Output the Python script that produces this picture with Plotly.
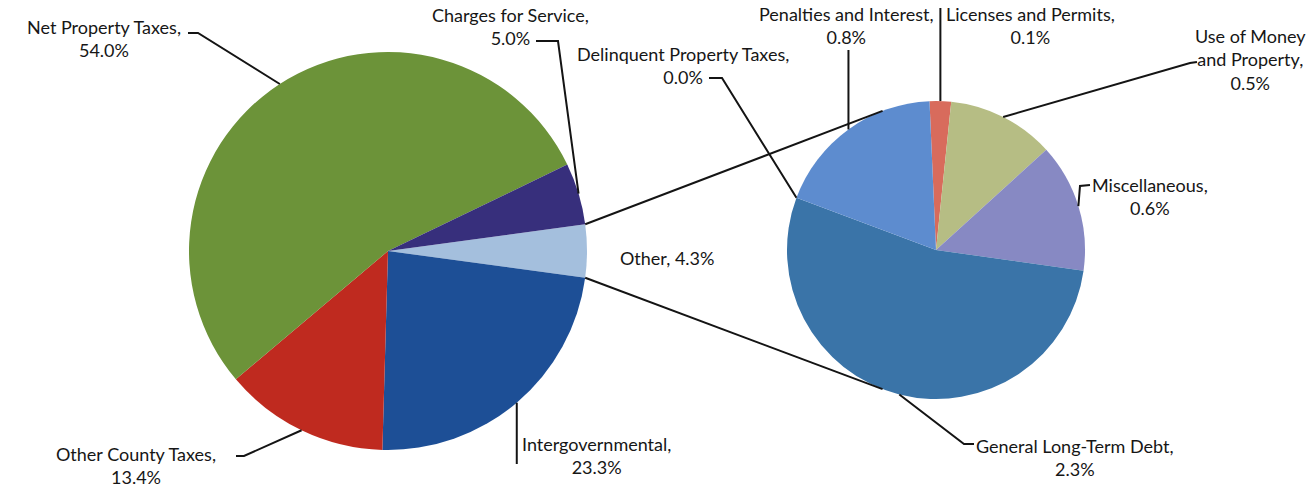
import math
import plotly.graph_objects as go

W, H = 1313, 491

# Main pie: revenue sources (percent of total)
main_labels = ["Other", "Intergovernmental", "Other County Taxes",
               "Net Property Taxes", "Charges for Service"]
main_values = [4.3, 23.3, 13.4, 54.0, 5.0]
main_colors = ["#A4BFDD", "#1D4F96", "#BF2A1F", "#6C9339", "#372F7C"]

# Secondary pie: breakdown of "Other"
sub_labels = ["Licenses and Permits", "Use of Money and Property", "Miscellaneous",
              "General Long-Term Debt", "Delinquent Property Taxes",
              "Penalties and Interest"]
sub_values = [0.1, 0.5, 0.6, 2.3, 0.0, 0.8]
sub_colors = ["#D86B5C", "#B6BD84", "#8789C3", "#3A74A8", "#3A74A8", "#5D8CCF"]

# Label text lines (wrapped like the data labels)
label_text = {
    "Net Property Taxes": "Net Property Taxes,<br>{v}",
    "Charges for Service": "Charges for Service,<br>{v}",
    "Other": "Other, {v}",
    "Intergovernmental": "Intergovernmental,<br>{v}",
    "Other County Taxes": "Other County Taxes,<br>{v}",
    "Licenses and Permits": "Licenses and Permits,<br>{v}",
    "Use of Money and Property": "Use of Money<br>and Property,<br>{v}",
    "Miscellaneous": "Miscellaneous,<br>{v}",
    "General Long-Term Debt": "General Long-Term Debt,<br>{v}",
    "Delinquent Property Taxes": "Delinquent Property Taxes,<br>{v}",
    "Penalties and Interest": "Penalties and Interest,<br>{v}",
}

# Pie geometry in pixels
L_CX, L_CY, L_R = 388, 251, 199
R_CX, R_CY, R_R = 936, 250, 149

main_total = sum(main_values)
main_rot = 90 - main_values[0] / main_total * 180
sub_rot = -2.5


def px(x):
    return x / W


def py(y):
    return 1 - y / H


def on_circle(cx, cy, r, ang):
    a = math.radians(ang)
    return cx + r * math.sin(a), cy - r * math.cos(a)


def slice_angles(values, rot):
    tot = sum(values)
    out, a = [], rot
    for v in values:
        span = v / tot * 360
        out.append((a, a + span))
        a += span
    return out


main_ang = dict(zip(main_labels, slice_angles(main_values, main_rot)))
sub_ang = dict(zip(sub_labels, slice_angles(sub_values, sub_rot)))

fig = go.Figure()
fig.add_trace(go.Pie(
    labels=main_labels, values=main_values, sort=False, direction="clockwise",
    rotation=main_rot, textinfo="none", showlegend=False,
    marker=dict(colors=main_colors, line=dict(width=0)),
    domain=dict(x=[px(L_CX - L_R), px(L_CX + L_R)],
                y=[py(L_CY + L_R), py(L_CY - L_R)]),
))
fig.add_trace(go.Pie(
    labels=sub_labels, values=sub_values, sort=False, direction="clockwise",
    rotation=sub_rot, textinfo="none", showlegend=False,
    marker=dict(colors=sub_colors, line=dict(width=0)),
    domain=dict(x=[px(R_CX - R_R), px(R_CX + R_R)],
                y=[py(R_CY + R_R), py(R_CY - R_R)]),
))

# Label block centres (px) and leader routes after the pie anchor point
label_pos = {
    "Net Property Taxes": (104, 38),
    "Charges for Service": (510, 27),
    "Other": (667, 258),
    "Intergovernmental": (596, 455),
    "Other County Taxes": (136, 465),
    "Licenses and Permits": (1030, 26),
    "Use of Money and Property": (1250, 60),
    "Miscellaneous": (1150, 196),
    "General Long-Term Debt": (1075, 457),
    "Delinquent Property Taxes": (683, 65),
    "Penalties and Interest": (847, 26),
}
leader_route = {
    "Net Property Taxes": [(198, 33), (188, 33)],
    "Charges for Service": [(558, 41), (536, 41)],
    "Other County Taxes": [(244, 456), (236, 456)],
    "Intergovernmental": "down",
    "Licenses and Permits": "up",
    "Use of Money and Property": [(1190, 63), (1197, 62)],
    "Miscellaneous": [(1080, 186), (1090, 185)],
    "General Long-Term Debt": [(964, 444), (974, 444)],
    "Delinquent Property Taxes": [(722, 78), (709, 78)],
    "Penalties and Interest": "up",
}
leader_top = {"Licenses and Permits": 8, "Penalties and Interest": 50,
              "Intergovernmental": 464}

shapes = []


def add_path(points, width=2):
    d = "M " + " L ".join(f"{px(x):.5f},{py(y):.5f}" for x, y in points)
    shapes.append(dict(type="path", path=d, xref="paper", yref="paper",
                       line=dict(color="#141414", width=width)))


def anchor(name):
    if name in main_ang:
        a0, a1 = main_ang[name]
        return on_circle(L_CX, L_CY, L_R, (a0 + a1) / 2)
    a0, a1 = sub_ang[name]
    return on_circle(R_CX, R_CY, R_R, (a0 + a1) / 2)


for name, route in leader_route.items():
    x0, y0 = anchor(name)
    if isinstance(route, str):
        pts = [(x0, y0), (x0, leader_top[name])]
    else:
        pts = [(x0, y0)] + route
    add_path(pts)

# Connector lines between the "Other" slice and the secondary pie
o0, o1 = main_ang["Other"]
add_path([on_circle(L_CX, L_CY, L_R, o0), on_circle(R_CX, R_CY, R_R, 339)])
add_path([on_circle(L_CX, L_CY, L_R, o1), on_circle(R_CX, R_CY, R_R, 201)])

annotations = []
values_by_name = dict(zip(main_labels, main_values))
values_by_name.update(zip(sub_labels, sub_values))
for name, (x, y) in label_pos.items():
    txt = label_text[name].format(v=f"{values_by_name[name]:.1f}%")
    annotations.append(dict(
        x=px(x), y=py(y), xref="paper", yref="paper", text=txt,
        showarrow=False, align="center", xanchor="center", yanchor="middle",
        font=dict(family="Lato", size=18, color="#161616"),
    ))

fig.update_layout(
    width=W, height=H, margin=dict(l=0, r=0, t=0, b=0),
    paper_bgcolor="white", plot_bgcolor="white",
    shapes=shapes, annotations=annotations,
)

fig.write_html("out.html")
